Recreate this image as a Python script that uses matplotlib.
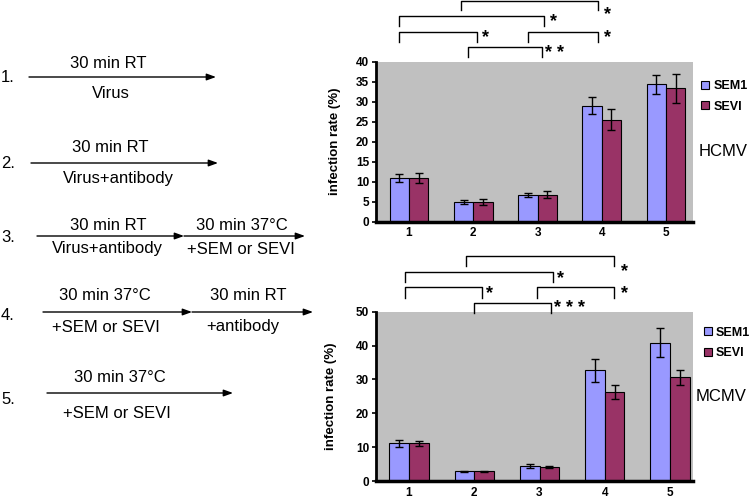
import matplotlib
matplotlib.use('Agg')
import matplotlib.pyplot as plt
from matplotlib.lines import Line2D
import matplotlib.transforms as mtransforms
import numpy as np

plt.rcParams['font.family'] = ['Liberation Sans', 'DejaVu Sans']

# ---------------- data ----------------
categories = ['1', '2', '3', '4', '5']
series_names = ['SEM1', 'SEVI']

hcmv_sem1 = [11.0, 4.9, 6.8, 29.0, 34.4]
hcmv_sem1_err = [1.0, 0.5, 0.5, 2.1, 2.4]
hcmv_sevi = [11.0, 4.9, 6.8, 25.5, 33.4]
hcmv_sevi_err = [1.2, 0.7, 0.8, 2.6, 3.6]

mcmv_sem1 = [11.1, 2.9, 4.5, 32.7, 40.9]
mcmv_sem1_err = [1.0, 0.2, 0.6, 3.4, 4.2]
mcmv_sevi = [11.1, 2.9, 4.2, 26.3, 30.6]
mcmv_sevi_err = [0.8, 0.2, 0.3, 2.0, 2.3]

hcmv_yticks = [0, 5, 10, 15, 20, 25, 30, 35, 40]
mcmv_yticks = [0, 10, 20, 30, 40, 50]

# significance brackets: x1, x2 (data), line y, leg y (axes fraction), star x, star y, label
hcmv_brackets = [
    (0.805, 2.946, 1.379, 1.323, 3.086, 1.334, '*'),
    (-0.151, 2.101, 1.288, 1.225, 2.246, 1.286, '*'),
    (-0.151, 1.054, 1.188, 1.125, 1.183, 1.188, '*'),
    (1.847, 2.946, 1.188, 1.125, 3.086, 1.188, '*'),
    (0.923, 2.065, 1.090, 1.031, 2.272, 1.090, '* *'),
]
mcmv_brackets = [
    (0.874, 3.142, 1.329, 1.268, 3.310, 1.276, '*'),
    (-0.061, 2.211, 1.236, 1.174, 2.325, 1.234, '*'),
    (-0.061, 1.123, 1.144, 1.082, 1.241, 1.146, '*'),
    (1.966, 3.142, 1.144, 1.082, 3.310, 1.146, '*'),
    (0.996, 2.181, 1.053, 0.994, 2.467, 1.053, '* * *'),
]

# protocol schematic
step_numbers = ['1.', '2.', '3.', '4.', '5.']
step_above = [['30 min RT'], ['30 min RT'], ['30 min RT', '30 min 37°C'],
              ['30 min 37°C', '30 min RT'], ['30 min 37°C']]
step_below = [['Virus'], ['Virus+antibody'], ['Virus+antibody', '+SEM or SEVI'],
              ['+SEM or SEVI', '+antibody'], ['+SEM or SEVI']]

# layout (pixels, from top-left) for the schematic
num_y = [77, 163, 238, 315, 400]
arrow_y = [77, 163, 236, 312, 393]
arrow_segs = [[(29, 216)], [(31, 218)], [(37, 184), (184, 305)],
              [(43, 192), (192, 313)], [(47, 233)]]
above_pos = [[(108, 63)], [(110, 148)], [(108, 225), (242, 225)],
             [(105, 296), (248, 296)], [(120, 377)]]
below_pos = [[(111, 93)], [(118, 178)], [(107, 249), (241, 249)],
             [(106, 327), (243, 327)], [(117, 413)]]

SEM_COLOR = '#9999ff'
SEVI_COLOR = '#993366'
BG = '#c0c0c0'

W, H = 750, 501
fig = plt.figure(figsize=(W / 100, H / 100), dpi=100)

# overlay for schematic
ov = fig.add_axes([0, 0, 1, 1])
ov.set_xlim(0, W)
ov.set_ylim(H, 0)
ov.axis('off')

TXT = 12
for i in range(5):
    ov.text(1, num_y[i], step_numbers[i], fontsize=TXT, ha='left', va='center')
    for (x1, x2) in arrow_segs[i]:
        ov.annotate('', xy=(x2, arrow_y[i]), xytext=(x1, arrow_y[i]),
                    arrowprops=dict(arrowstyle='-|>,head_length=0.55,head_width=0.2',
                                    lw=1.0, color='black', shrinkA=0, shrinkB=0,
                                    mutation_scale=10))
    for t, (x, y) in zip(step_above[i], above_pos[i]):
        ov.text(x, y, t, fontsize=TXT, ha='center', va='center')
    for t, (x, y) in zip(step_below[i], below_pos[i]):
        ov.text(x, y, t, fontsize=TXT, ha='center', va='center')


def px_rect(left, right, top, bottom):
    return [left / W, 1 - bottom / H, (right - left) / W, (bottom - top) / H]


def draw_panel(rect, sem, sem_err, sevi, sevi_err, yticks, xlim, brackets,
               xpad, ylab_xy, legend_xy, name, name_xy):
    ax = fig.add_axes(rect)
    ax.set_facecolor(BG)
    x = np.arange(len(categories))
    w = 0.3
    ekw = dict(ecolor='black', elinewidth=1.0, capsize=3, capthick=1.0)
    ax.bar(x - w / 2, sem, w, yerr=sem_err, color=SEM_COLOR, edgecolor='black',
           linewidth=0.8, error_kw=ekw, zorder=2)
    ax.bar(x + w / 2, sevi, w, yerr=sevi_err, color=SEVI_COLOR, edgecolor='black',
           linewidth=0.8, error_kw=ekw, zorder=2)
    ax.set_xlim(*xlim)
    ax.set_ylim(yticks[0], yticks[-1])
    ax.set_yticks(yticks)
    ax.set_xticks(x)
    ax.set_xticklabels(categories)
    for s in ['top', 'right']:
        ax.spines[s].set_visible(False)
    ax.spines['left'].set_linewidth(2.0)
    ax.spines['bottom'].set_linewidth(2.5)
    ax.tick_params(axis='y', direction='out', length=3, width=1.2, pad=2,
                   labelsize=8.5)
    ax.tick_params(axis='x', length=0, pad=xpad, labelsize=8.5)
    for lab in ax.get_xticklabels() + ax.get_yticklabels():
        lab.set_fontweight('bold')
    ax.set_ylabel('infection rate (%)', fontsize=9.5, fontweight='bold')
    ax.yaxis.set_label_coords(*ylab_xy)

    trans = mtransforms.blended_transform_factory(ax.transData, ax.transAxes)
    for (x1, x2, yl, yg, sx, sy, lab) in brackets:
        ax.plot([x1, x1, x2, x2], [yg, yl, yl, yg], color='black', lw=1.0,
                transform=trans, clip_on=False)
        fs = 13
        st = mtransforms.offset_copy(trans, fig=fig, y=-0.59 * fs, units='points')
        ax.text(sx, sy, lab, transform=st, fontsize=fs, fontweight='bold',
                ha='center', va='baseline')

    handles = [Line2D([], [], marker='s', ls='none', markerfacecolor=c,
                      markeredgecolor='black', markersize=5.5, markeredgewidth=0.8)
               for c in (SEM_COLOR, SEVI_COLOR)]
    ax.legend(handles, series_names, loc='center left',
              bbox_to_anchor=(legend_xy[0] / W, 1 - legend_xy[1] / H),
              bbox_transform=fig.transFigure, frameon=False,
              prop={'weight': 'bold', 'size': 9}, handlelength=0.6,
              handletextpad=0.35, labelspacing=0.7, borderpad=0, borderaxespad=0)
    fig.text(name_xy[0] / W, 1 - name_xy[1] / H, name, fontsize=12,
             ha='center', va='center')
    return ax


draw_panel(px_rect(376, 693, 61.7, 221.7), hcmv_sem1, hcmv_sem1_err,
           hcmv_sevi, hcmv_sevi_err, hcmv_yticks, (-0.514, 4.42), hcmv_brackets,
           4, (-0.110, 0.5), (701.7, 96.3), 'HCMV', (723.5, 151))
draw_panel(px_rect(376, 692.7, 311.7, 481), mcmv_sem1, mcmv_sem1_err,
           mcmv_sevi, mcmv_sevi_err, mcmv_yticks, (-0.506, 4.348), mcmv_brackets,
           4.5, (-0.123, 0.5), (704, 343), 'MCMV', (721, 396.7))

fig.savefig('out.png', dpi=100)
